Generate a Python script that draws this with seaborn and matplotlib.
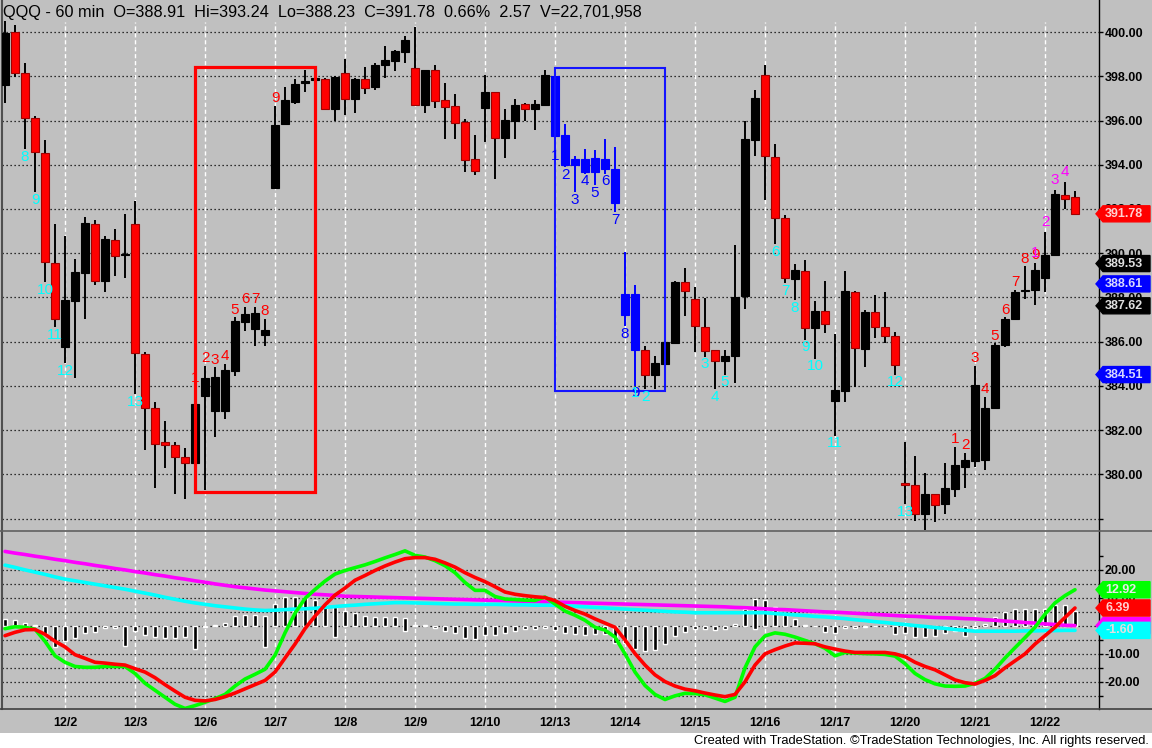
import numpy as np
import pandas as pd
import matplotlib
matplotlib.use("Agg")
import matplotlib.pyplot as plt
import seaborn as sns
from matplotlib.patches import Rectangle, Polygon
from matplotlib.transforms import blended_transform_factory
from matplotlib.ticker import FixedLocator, FixedFormatter

# ---- QQQ 60 min bars, 12/1 (partial) .. 12/22 (partial) ----
opens = [397.60, 399.99, 398.13, 396.13, 394.55, 389.57, 385.74, 387.82, 389.09, 391.33,
         388.76, 390.58, 389.90, 391.30, 385.44, 383.02, 381.45, 381.32, 380.79, 380.49,
         383.55, 382.87, 382.87, 384.69, 386.87, 386.57, 386.30, 392.95, 395.82, 396.84,
         397.68, 397.84, 397.86, 396.54, 398.17, 396.96, 397.86, 397.52, 398.50, 398.70,
         399.08, 398.36, 396.72, 398.28, 396.92, 396.65, 395.91, 394.28, 396.57, 397.30,
         395.23, 395.98, 396.74, 396.50, 396.72, 398.00, 395.33, 394.00, 394.28, 393.67,
         394.28, 393.79, 387.22, 388.16, 385.62, 384.49, 384.99, 385.92, 388.69, 387.93,
         386.68, 385.62, 385.11, 385.33, 388.05, 395.14, 398.05, 394.35, 391.60, 388.84,
         389.18, 386.62, 387.37, 383.33, 383.75, 388.26, 385.65, 387.36, 386.65, 386.27,
         379.58, 379.50, 378.19, 379.10, 378.65, 379.32, 380.35, 380.61, 380.65, 383.02,
         385.85, 387.03, 388.28, 388.35, 388.87, 389.93, 392.65, 392.52]
highs = [400.50, 400.30, 398.60, 396.20, 395.10, 391.30, 390.76, 389.75, 391.63, 391.48,
         390.76, 391.10, 391.75, 392.34, 385.55, 383.28, 382.42, 381.44, 381.21, 384.00,
         384.91, 384.83, 384.99, 387.10, 387.58, 387.58, 387.03, 396.65, 397.52, 397.86,
         398.28, 397.95, 397.90, 398.00, 398.76, 397.90, 398.40, 398.60, 399.37, 399.20,
         399.82, 400.24, 398.30, 398.50, 397.70, 397.19, 396.09, 395.36, 398.05, 397.30,
         396.54, 396.96, 396.80, 396.92, 398.28, 398.25, 395.83, 394.38, 394.73, 394.65,
         395.18, 394.78, 390.05, 388.58, 385.82, 385.36, 386.38, 388.72, 389.34, 388.46,
         387.98, 385.62, 385.62, 390.35, 395.98, 397.40, 398.50, 394.93, 391.71, 389.52,
         389.70, 387.82, 388.76, 386.35, 389.18, 388.30, 387.44, 388.13, 388.23, 386.45,
         381.47, 380.83, 380.05, 379.10, 380.53, 381.24, 380.98, 384.91, 383.51, 385.92,
         387.10, 388.35, 389.40, 389.55, 390.95, 392.87, 393.24, 392.80]
lows = [396.80, 397.97, 394.70, 392.76, 388.69, 386.65, 385.02, 384.35, 387.03, 388.54,
        388.23, 388.99, 388.87, 383.63, 381.09, 379.40, 380.30, 379.13, 378.90, 380.40,
        379.28, 381.70, 382.50, 384.43, 386.50, 385.82, 385.82, 392.95, 395.82, 396.74,
        397.30, 397.80, 396.50, 395.98, 396.27, 396.34, 397.22, 397.40, 397.90, 398.25,
        398.60, 396.70, 396.34, 396.57, 395.18, 395.18, 393.67, 393.55, 395.03, 393.37,
        394.32, 395.18, 395.98, 395.56, 396.72, 394.75, 393.90, 392.76, 393.60, 393.07,
        393.60, 391.86, 386.70, 384.00, 383.86, 383.86, 384.00, 385.90, 387.18, 385.51,
        385.32, 383.86, 384.50, 384.11, 387.48, 394.38, 392.42, 390.40, 388.64, 387.86,
        386.08, 385.22, 386.38, 381.74, 383.25, 383.96, 384.87, 386.15, 385.92, 384.50,
        378.65, 377.89, 377.40, 377.84, 378.19, 378.98, 379.40, 380.35, 380.19, 383.00,
        385.74, 387.00, 387.93, 387.66, 388.23, 389.90, 392.00, 391.75]
closes = [399.97, 398.13, 396.12, 394.58, 389.59, 387.03, 387.90, 389.14, 391.36, 388.73,
          390.62, 389.86, 389.90, 385.49, 383.02, 381.36, 381.32, 380.76, 380.49, 383.20,
          384.35, 384.41, 384.73, 386.91, 387.25, 387.30, 386.54, 395.79, 396.92, 397.63,
          397.77, 397.88, 396.54, 397.98, 396.95, 397.86, 397.49, 398.50, 398.73, 399.14,
          399.64, 396.72, 398.28, 396.89, 396.62, 395.89, 394.23, 393.72, 397.30, 395.23,
          396.01, 396.69, 396.50, 396.74, 398.05, 395.29, 393.97, 394.25, 393.67, 394.32,
          393.82, 392.27, 388.16, 385.62, 384.49, 385.03, 386.00, 388.69, 388.31, 386.69,
          385.56, 385.11, 385.36, 388.04, 395.18, 397.04, 394.40, 391.60, 388.89, 389.25,
          386.62, 387.37, 386.80, 383.81, 388.31, 385.71, 387.36, 386.65, 386.24, 384.96,
          379.53, 378.19, 379.10, 378.60, 379.37, 380.43, 380.65, 384.05, 382.99, 385.86,
          387.03, 388.26, 388.33, 389.22, 389.90, 392.66, 392.47, 391.78]

day_names = ["12/1", "12/2", "12/3", "12/6", "12/7", "12/8", "12/9", "12/10", "12/13",
             "12/14", "12/15", "12/16", "12/17", "12/20", "12/21", "12/22"]
bars_per_day = [6, 7, 7, 7, 7, 7, 7, 7, 7, 7, 7, 7, 7, 7, 7, 4]

# ---- oscillator panel ----
green = [-1.0, -0.3, -0.5, -1.2, -5.5, -10.7, -13.0, -14.5, -14.8, -14.8,
         -14.5, -14.5, -14.5, -17.0, -20.5, -23.0, -25.5, -28.0, -29.5, -28.5,
         -27.3, -26.0, -24.5, -21.5, -19.0, -17.3, -15.5, -10.5, -2.5, 4.5,
         9.8, 13.0, 16.0, 18.5, 19.8, 20.8, 21.8, 23.0, 24.3, 25.5,
         26.8, 25.2, 24.6, 23.3, 21.5, 19.0, 15.5, 12.7, 12.7, 10.5,
         9.6, 9.4, 9.2, 9.1, 10.3, 7.8, 5.3, 3.8, 2.0, -0.5,
         -1.5, -4.0, -10.0, -16.5, -21.3, -24.5, -26.3, -25.0, -24.1, -24.2,
         -24.6, -25.8, -27.0, -25.5, -15.0, -7.5, -3.6, -2.5, -3.0, -4.0,
         -5.2, -6.4, -8.0, -10.7, -9.5, -9.7, -9.9, -10.0, -10.2, -10.8,
         -13.5, -17.0, -19.2, -20.7, -21.5, -21.6, -21.5, -20.5, -18.8, -15.5,
         -11.5, -7.8, -4.2, -0.5, 4.2, 8.2, 10.8, 12.92]
red = [-3.5, -2.3, -1.4, -1.3, -3.0, -5.5, -7.5, -10.3, -11.6, -13.0,
       -13.3, -13.7, -14.0, -15.3, -16.5, -18.5, -21.0, -23.3, -25.5, -26.6,
       -26.8, -26.3, -25.3, -24.0, -22.5, -21.0, -19.5, -16.5, -11.5, -6.5,
       -1.0, 3.5, 7.5, 11.0, 13.5, 16.3, 18.0, 19.8, 21.4, 22.8,
       24.0, 24.4, 24.4, 23.8, 22.5, 21.0, 19.0, 17.3, 15.8, 14.0,
       12.1, 11.3, 10.8, 10.4, 10.1, 9.0, 7.0, 5.5, 4.2, 2.5,
       1.0, -0.5, -5.0, -9.9, -14.0, -17.5, -19.9, -21.5, -22.6, -23.2,
       -24.0, -24.7, -25.3, -24.5, -20.0, -14.0, -10.0, -8.5, -7.2, -6.1,
       -6.2, -6.4, -7.5, -8.3, -9.0, -9.5, -9.5, -9.5, -9.5, -10.0,
       -11.0, -13.0, -14.5, -15.7, -17.5, -19.3, -20.3, -20.8, -19.5, -17.8,
       -15.0, -12.5, -10.0, -6.5, -3.5, -0.5, 3.0, 6.39]
magenta = [26.6, 26.0, 25.5, 24.9, 24.4, 23.8, 23.3, 22.7, 22.2, 21.6,
           21.1, 20.5, 20.0, 19.4, 18.9, 18.3, 17.8, 17.2, 16.7, 16.1,
           15.6, 15.0, 14.5, 14.0, 13.6, 13.2, 12.8, 12.5, 12.2, 11.9,
           11.6, 11.3, 11.1, 10.9, 10.6, 10.5, 10.4, 10.3, 10.2, 10.1,
           10.0, 9.9, 9.8, 9.7, 9.6, 9.5, 9.4, 9.3, 9.2, 9.1,
           9.0, 8.9, 8.8, 8.7, 8.6, 8.5, 8.4, 8.3, 8.2, 8.1,
           8.0, 7.9, 7.8, 7.7, 7.6, 7.5, 7.4, 7.3, 7.2, 7.1,
           7.0, 6.9, 6.8, 6.6, 6.5, 6.3, 6.1, 5.9, 5.8, 5.6,
           5.4, 5.2, 5.0, 4.9, 4.7, 4.5, 4.3, 4.1, 3.9, 3.7,
           3.5, 3.4, 3.2, 3.0, 2.9, 2.8, 2.6, 2.5, 2.2, 2.0,
           1.7, 1.5, 1.2, 1.0, 0.7, 0.5, 0.2, 0.1]
cyan = [21.7, 20.9, 20.0, 19.2, 18.4, 17.5, 16.7, 16.1, 15.5, 14.9,
        14.3, 13.7, 13.1, 12.4, 11.7, 11.0, 10.2, 9.5, 8.8, 8.2,
        7.7, 7.2, 6.8, 6.4, 6.0, 5.7, 5.5, 5.6, 5.8, 6.0,
        6.1, 6.3, 6.6, 6.9, 7.2, 7.4, 7.7, 7.9, 8.1, 8.3,
        8.3, 8.2, 8.1, 8.0, 7.9, 7.8, 7.8, 7.7, 7.7, 7.7,
        7.6, 7.5, 7.5, 7.4, 7.4, 7.4, 7.2, 7.0, 6.8, 6.6,
        6.4, 6.2, 6.0, 5.8, 5.6, 5.4, 5.2, 5.0, 4.9, 4.7,
        4.7, 4.7, 4.7, 4.7, 4.7, 4.7, 4.7, 4.4, 4.2, 3.9,
        3.7, 3.4, 3.2, 2.9, 2.6, 2.2, 1.9, 1.5, 1.2, 0.8,
        0.5, 0.1, -0.2, -0.6, -0.9, -1.3, -1.6, -1.9, -1.9, -1.9,
        -1.9, -1.9, -1.8, -1.8, -1.7, -1.7, -1.6, -1.60]
hist_hi = [2.4, 2.0, 1.0, 0.2, 0, 0, 0, 0, 0, 0,
           0, 0, 0, 0, 0, 0, 0, 0, 0, 0,
           0, 0.2, 1.2, 3.4, 3.8, 3.8, 3.4, 7.8, 10.2, 10.2,
           10.2, 9.4, 7.4, 6.6, 5.4, 4.6, 3.4, 3.0, 3.0, 3.0,
           2.7, 0.2, 0.3, 0, 0, 0, 0, 0, 0, 0,
           0, 0, 0, 0, 0, 0, 0, 0, 0, 0,
           0, 0, 0, 0, 0, 0, 0, 0, 0, 0,
           0, 0, 0, 0.6, 6.2, 9.6, 9.2, 6.6, 3.8, 2.4,
           0.2, 0, 0, 0, 0, 0, 0, 0, 0, 0,
           0, 0, 0, 0, 0, 0, 0, 0, 0.8, 3.2,
           4.8, 6.2, 6.2, 6.2, 6.2, 7.4, 7.4, 5.4]
hist_lo = [0, 0, 0, 0, -3.0, -7.4, -5.4, -4.4, -2.4, -2.2,
           -0.6, -0.8, -7.2, -1.8, -3.4, -3.8, -4.3, -4.3, -4.0, -8.2,
           -0.5, 0, 0, 0, 0, 0, -7.4, 0, 0, 0,
           0, 0, 0, -3.8, 0, 0, 0, 0, 0, 0,
           -1.8, 0, 0, -0.8, -1.8, -2.4, -4.2, -4.8, -3.4, -3.4,
           -2.4, -1.8, -1.2, -1.2, -0.8, -1.4, -2.6, -3.0, -3.2, -3.0,
           -3.0, -6.0, -6.0, -8.4, -9.0, -8.6, -6.6, -3.6, -2.2, -1.2,
           -1.2, -1.4, -1.2, 0, 0, -1.0, 0, 0, 0, 0,
           0, -0.2, -2.2, -2.6, -0.8, -0.8, -0.3, -0.2, -0.2, -2.8,
           -2.6, -4.0, -3.8, -3.6, -2.6, -2.0, -3.6, -0.8, 0, 0,
           0, 0, 0, 0, 0, 0, 0, 0]

# ---- TD style counts ----
buy_count_a_bars = [2, 3, 4, 5, 6, 13]
buy_count_a_text = ["8", "9", "10", "11", "12", "13"]
sell_setup_a_bars = [19, 20, 21, 22, 23, 24, 25, 26, 27]
buy_setup_bars = [55, 56, 57, 58, 59, 60, 61, 62, 63]
buy_count_b_bars = [63, 64, 70, 71, 72, 77, 78, 79, 80, 81, 83, 89, 90]
sell_setup_b_bars = [95, 96, 97, 98, 99, 100, 101, 102, 103]
sell_count_bars = [103, 104, 105, 106]

red_box_bars = [19, 31]
blue_box_bars = [55, 66]

price_tags = [391.78, 389.53, 388.61, 387.62, 384.51]
price_tag_colors = ["#FF0000", "#000000", "#0000FF", "#000000", "#0000FF"]
price_tag_text = ["#FFD0D0", "#E0E0E0", "#D8D8FF", "#E0E0E0", "#D8D8FF"]

header = "QQQ - 60 min  O=388.91  Hi=393.24  Lo=388.23  C=391.78  0.66%  2.57  V=22,701,958"

# ---------------------------------------------------------------
sns.set_theme(style="white")
plt.rcParams['font.family'] = ['Liberation Sans', 'DejaVu Sans']
plt.rcParams['axes.unicode_minus'] = False

BG = "#C0C0C0"
W, H = 1152, 748
fig = plt.figure(figsize=(W / 100, H / 100), dpi=100, facecolor=BG)


def axes_px(left, top, right, bottom):
    return fig.add_axes([left / W, 1 - bottom / H, (right - left) / W, (bottom - top) / H])


ax = axes_px(2, 0, 1099, 530)
ax2 = axes_px(2, 531, 1099, 709)
XL = (-0.3, 109.4)

o, h, l, c = map(np.array, (opens, highs, lows, closes))
idx = np.arange(len(o))
bar_dates = np.repeat(day_names, bars_per_day)
day_first = [i for i in idx[1:] if bar_dates[i] != bar_dates[i - 1]]
day_lbls = [bar_dates[i] for i in day_first]

for a in (ax, ax2):
    a.set_facecolor(BG)
    a.set_xlim(*XL)
    for s in ("top", "bottom"):
        a.spines[s].set_visible(False)
    a.spines["left"].set_color("#505050")
    a.spines["left"].set_linewidth(1.5)
    a.spines["right"].set_color("black")
    a.spines["right"].set_linewidth(1.0)
    a.yaxis.tick_right()
    a.tick_params(axis="y", direction="out", length=3, width=1, pad=1,
                  labelsize=9, colors="black")
    a.set_xticks([])
    a.set_ylabel("")

# ---- main panel ----
ax.set_ylim(377.48, 401.45)
for p in range(378, 401, 2):
    ax.axhline(p, color="black", lw=0.9, ls=(0, (1, 2.2)), zorder=1)
for d in day_first:
    ax.axvline(d, ymax=(530 - 22) / 530, color="white", lw=1, ls=(0, (3, 2)), zorder=1)

painted = np.isin(idx, buy_setup_bars)
body_col = np.where(painted, "#0000FF", np.where(c >= o, "black", "#FF0000"))
edge_col = np.where(painted, "#0000FF", np.where(c >= o, "black", "#A00000"))
wick_col = np.where(painted, "#0000FF", "black")
ax.vlines(idx, l, h, colors=wick_col, lw=1.4, zorder=2)
ax.bar(idx, np.maximum(np.abs(c - o), 0.06), bottom=np.minimum(o, c), width=0.85,
       color=body_col, edgecolor=edge_col, linewidth=0.8, zorder=3)

ytk = list(range(378, 401, 2))
ax.yaxis.set_major_locator(FixedLocator(ytk))
ax.yaxis.set_major_formatter(FixedFormatter(["" if t == 378 else f"{t:.2f}" for t in ytk]))
for t in ax.get_yticklabels():
    t.set_fontweight("bold")


def label(bars, texts, color, above, off):
    for b, t in zip(bars, texts):
        y = h[b] if above else l[b]
        ax.annotate(t, (b, y), xytext=(0, off if above else -off), textcoords="offset points",
                    ha="center", va="center", color=color, fontsize=11, zorder=6)


nums = [str(k) for k in range(1, 14)]
label(buy_count_a_bars, buy_count_a_text, "#00FFFF", False, 5.5)
label(sell_setup_a_bars, nums, "#FF0000", True, 5.5)
label(buy_setup_bars, nums, "#0000FF", False, 5.5)
label(buy_count_b_bars, nums, "#00FFFF", False, 5.5)
label(sell_setup_b_bars, nums, "#FF0000", True, 5.5)
label(sell_count_bars, nums, "#FF00FF", True, 7)

for (b0, b1), col, lw in ((red_box_bars, "#FF0000", 2.3), (blue_box_bars, "#1414FF", 1.5)):
    lo = l[b0:b1 + 1].min() - 0.08
    hi = h[b0:b1 + 1].max() + 0.12
    ax.add_patch(Rectangle((b0, lo), b1 - b0, hi - lo, fill=False, edgecolor=col,
                           lw=lw, zorder=5))


def tag(a, v, half, text, bg, fg, z):
    tr = blended_transform_factory(a.transAxes, a.transData)
    f = lambda px: (px - 2) / 1097
    poly = [(f(1096), v), (f(1103), v + half), (f(1150), v + half),
            (f(1150), v - half), (f(1103), v - half)]
    a.add_patch(Polygon(poly, closed=True, transform=tr, facecolor=bg, edgecolor=bg,
                        clip_on=False, zorder=z))
    if text:
        a.text(f(1105), v, text, transform=tr, ha="left", va="center", fontsize=9,
               fontweight="bold", color=fg, clip_on=False, zorder=z + 0.5)


for k, (v, bg, fg) in enumerate(zip(price_tags, price_tag_colors, price_tag_text)):
    tag(ax, v, 8 / 22.07, f"{v:.2f}", bg, fg, 10 + k)

# ---- oscillator panel ----
ax2.set_ylim(-29.7, 33.9)
for g in range(-25, 21, 5):
    ax2.axhline(g, color="black", lw=0.9, ls=(0, (1, 2.2)), zorder=1)
for d in day_first:
    ax2.axvline(d, color="white", lw=1, ls=(0, (3, 2)), zorder=1)

hh, hl = np.array(hist_hi), np.array(hist_lo)
ax2.bar(idx, hh - hl, bottom=hl, width=0.35, color="black", zorder=2)

osc = pd.DataFrame({
    "bar": np.tile(idx, 4),
    "value": magenta + cyan + green + red,
    "line": np.repeat(["magenta", "cyan", "green", "red"], len(idx)),
})
sns.lineplot(data=osc, x="bar", y="value", hue="line",
             hue_order=["magenta", "cyan", "green", "red"],
             palette={"magenta": "#FF00FF", "cyan": "#00FFFF", "green": "#00FF00", "red": "#FF0000"},
             estimator=None, sort=False, lw=2.6, legend=False, ax=ax2, zorder=3)
ax2.set_xlim(*XL)
ax2.set_xlabel("")
ax2.set_ylabel("")

ytk2 = list(range(-25, 26, 5))
ax2.yaxis.set_major_locator(FixedLocator(ytk2))
ax2.yaxis.set_major_formatter(FixedFormatter([f"{t:.2f}" if t % 10 == 0 else "" for t in ytk2]))
for t in ax2.get_yticklabels():
    t.set_fontweight("bold")

ax2.set_xticks(day_first)
ax2.set_xticklabels(day_lbls, fontsize=9, fontweight="bold")
ax2.tick_params(axis="x", length=0, pad=6, colors="black")

# magenta tag sits under the cyan one, only its edge shows
osc_tags = ((magenta[-1], "#FF00FF", "#FFD8FF", False), (cyan[-1], "#00FFFF", "#E0E0E0", True),
            (red[-1], "#FF0000", "#FFD0D0", True), (green[-1], "#00FF00", "#E8E8E8", True))
for k, (v, bg, fg, show) in enumerate(osc_tags):
    tag(ax2, v, 8 / 2.78, f"{v:.2f}" if show else "", bg, fg, 10 + k)

# separators and frame
fig.add_artist(plt.Line2D([0, 1], [1 - 530.5 / H] * 2, color="#606060", lw=1.2))
fig.add_artist(plt.Line2D([0, 1], [1 - 709 / H] * 2, color="#404040", lw=1.2))
fig.add_artist(Rectangle((0, 0), 1, 15 / H, transform=fig.transFigure,
                         facecolor="white", edgecolor="none"))

fig.text(3 / W, 1 - 12 / H, header, ha="left", va="center", fontsize=11.7, color="black")
fig.text(1149 / W, 1 - 741 / H,
         "Created with TradeStation. \u00a9TradeStation Technologies, Inc. All rights reserved.",
         ha="right", va="center", fontsize=9.3, color="black")

fig.savefig("out.png", dpi=100, facecolor=BG)
